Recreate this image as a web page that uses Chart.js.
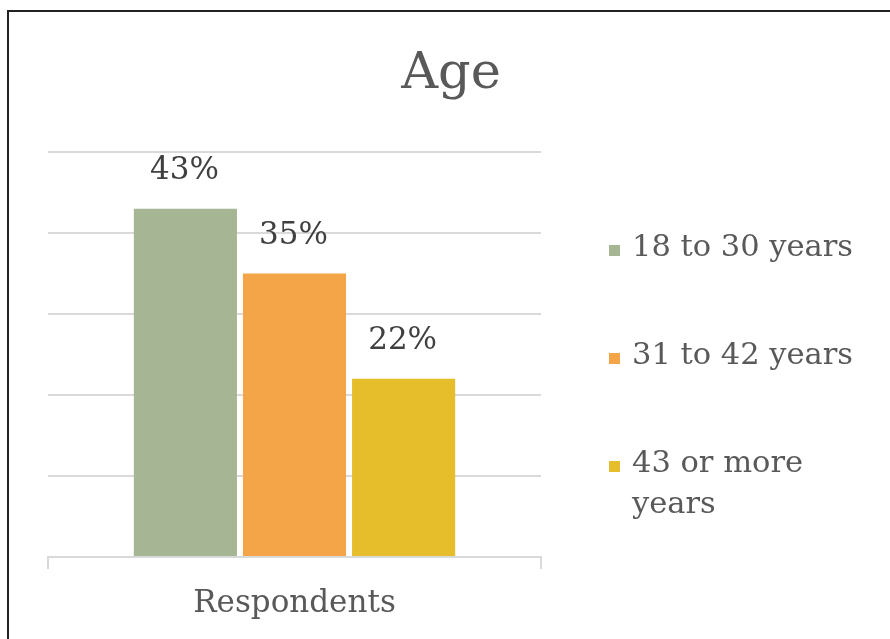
<!DOCTYPE html>
<html>
<head>
<meta charset="utf-8">
<script src="https://cdn.jsdelivr.net/npm/chart.js@4.4.1/dist/chart.umd.min.js"></script>
<style>
  html, body { margin: 0; padding: 0; background: #fff; }
  #wrap { position: relative; width: 890px; height: 639px; overflow: hidden; }
  #frame { position: absolute; left: 7px; top: 10px; width: 900px; height: 700px;
           border-top: 2px solid #222; border-left: 2px solid #222; pointer-events: none; }
  canvas { position: absolute; left: 0; top: 0; }
</style>
</head>
<body>
<div id="wrap">
  <canvas id="ageChart" width="890" height="639"></canvas>
  <div id="frame"></div>
</div>
<script>
const chartTitle = 'Age';
const categories = ['Respondents'];
const seriesNames = ['18 to 30 years', '31 to 42 years', '43 or more years'];
const seriesValues = [0.43, 0.35, 0.22];
const seriesColors = ['#a6b593', '#f3a547', '#e6bd2b'];
const yTicks = [0, 0.1, 0.2, 0.3, 0.4, 0.5];

const FONT = '"DejaVu Serif", "Liberation Serif", serif';
const TEXT = '#595959';

document.addEventListener("DOMContentLoaded", function () {
    const ctx = document.getElementById('ageChart').getContext('2d');

    // title, value labels and the wrapped legend on the right
    const extras = {
        id: 'extras',
        afterDatasetsDraw(chart) {
            const c = chart.ctx;
            c.save();
            c.fillStyle = '#404040';
            c.font = '31px ' + FONT;
            c.textAlign = 'center';
            c.textBaseline = 'middle';
            chart.data.datasets.forEach((ds, i) => {
                const bar = chart.getDatasetMeta(i).data[0];
                c.fillText(Math.round(ds.data[0] * 100) + '%', bar.x - 1, bar.y - 38);
            });
            c.restore();
        },
        afterDraw(chart) {
            const c = chart.ctx;
            c.save();
            c.fillStyle = TEXT;
            c.font = '51px ' + FONT;
            c.textAlign = 'center';
            c.textBaseline = 'alphabetic';
            c.fillText(chartTitle, 451, 88);

            c.font = '30.5px ' + FONT;
            c.textAlign = 'left';
            c.textBaseline = 'middle';
            const maxW = 245;
            let y = 248;
            chart.data.datasets.forEach(ds => {
                const words = ds.label.split(' ');
                const lines = [];
                let line = '';
                words.forEach(w => {
                    const test = line ? line + ' ' + w : w;
                    if (c.measureText(test).width > maxW && line) {
                        lines.push(line);
                        line = w;
                    } else {
                        line = test;
                    }
                });
                lines.push(line);
                c.fillStyle = ds.backgroundColor;
                c.fillRect(609, y - 3, 11, 11);
                c.fillStyle = TEXT;
                lines.forEach((l, k) => c.fillText(l, 632, y + k * 41));
                y += 108;
            });
            c.restore();
        }
    };

    const data = {
        labels: categories,
        datasets: seriesNames.map((name, i) => ({
            label: name,
            data: [seriesValues[i]],
            backgroundColor: seriesColors[i],
            borderWidth: 0,
            categoryPercentage: 0.664,
            barPercentage: 0.945,
        }))
    };

    const config = {
        type: 'bar',
        data: data,
        options: {
            responsive: false,
            devicePixelRatio: 1,
            animation: false,
            layout: {
                padding: { left: 48, right: 349, top: 152, bottom: 0 }
            },
            scales: {
                x: {
                    afterFit: s => { s.height = 82; },
                    grid: {
                        drawOnChartArea: false,
                        color: '#d9d9d9',
                        lineWidth: 2,
                        tickLength: 12,
                    },
                    border: { color: '#d9d9d9', width: 2 },
                    ticks: {
                        color: TEXT,
                        padding: 16,
                        font: { family: FONT, size: 31 }
                    }
                },
                y: {
                    min: yTicks[0],
                    max: yTicks[yTicks.length - 1],
                    afterBuildTicks: s => { s.ticks = yTicks.map(v => ({ value: v })); },
                    ticks: { display: false },
                    border: { display: false },
                    grid: {
                        color: '#d9d9d9',
                        lineWidth: 2,
                        drawTicks: false,
                    }
                }
            },
            plugins: {
                legend: { display: false },
                title: { display: false },
                tooltip: { enabled: false }
            }
        },
        plugins: [extras]
    };

    const ageChart = new Chart(ctx, config);
});
</script>
</body>
</html>
